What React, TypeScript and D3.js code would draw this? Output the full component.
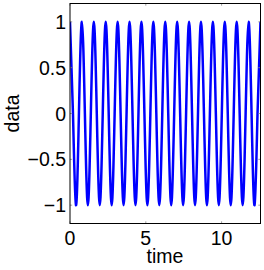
import React from "react";
import * as d3 from "d3";

const times = [
  0, 0.196, 0.393, 0.589, 0.785, 0.982, 1.178, 1.374, 1.571, 1.767, 1.963, 2.16, 2.356,
  2.553, 2.749, 2.945, 3.142, 3.338, 3.534, 3.731, 3.927, 4.123, 4.32, 4.516, 4.712,
  4.909, 5.105, 5.301, 5.498, 5.694, 5.89, 6.087, 6.283, 6.48, 6.676, 6.872, 7.069,
  7.265, 7.461, 7.658, 7.854, 8.05, 8.247, 8.443, 8.639, 8.836, 9.032, 9.228, 9.425,
  9.621, 9.817, 10.014, 10.21, 10.407, 10.603, 10.799, 10.996, 11.192, 11.388, 11.585,
  11.781, 11.977, 12.174, 12.37, 12.566,
];
const dataValues = [
  1, 0, -1, 0, 1, 0, -1, 0, 1, 0, -1, 0, 1, 0, -1, 0,
  1, 0, -1, 0, 1, 0, -1, 0, 1, 0, -1, 0, 1, 0, -1, 0,
  1, 0, -1, 0, 1, 0, -1, 0, 1, 0, -1, 0, 1, 0, -1, 0,
  1, 0, -1, 0, 1, 0, -1, 0, 1, 0, -1, 0, 1, 0, -1, 0,
  1,
];
const xTicks = [0, 5, 10];
const yTicks = [-1, -0.5, 0, 0.5, 1];
const xLabel = "time";
const yLabel = "data";

export default function App() {
  const W = 264, H = 270;
  const left = 70, right = 260.5, top = 3.5, bottom = 223.5;
  const x = d3.scaleLinear().domain([0, 12.566]).range([left, right]);
  const y = d3.scaleLinear().domain([-1.2, 1.2]).range([bottom, top]);
  const pts = times.map((t, i) => [t, dataValues[i]] as [number, number]);
  const line = d3
    .line<[number, number]>()
    .x((d) => x(d[0]))
    .y((d) => y(d[1]))
    .curve(d3.curveNatural);
  const font = "'Liberation Sans', Arial, sans-serif";
  const fs = 19.5;
  const tl = 2.2;
  return (
    <svg
      width={W}
      height={H}
      style={{ position: "absolute", left: 0, top: 0, background: "#fff" }}
      fontFamily={font}
    >
      <rect x={0} y={0} width={W} height={H} fill="#fff" />
      <defs>
        <clipPath id="plotclip">
          <rect x={left} y={top} width={right - left} height={bottom - top} />
        </clipPath>
      </defs>
      <path
        d={line(pts) || ""}
        fill="none"
        stroke="#0000ff"
        strokeWidth={2.5}
        clipPath="url(#plotclip)"
      />
      {xTicks.map((t) => (
        <g key={"x" + t}>
          <line x1={x(t)} x2={x(t)} y1={bottom} y2={bottom - tl} stroke="#888" strokeWidth={0.8} />
          <line x1={x(t)} x2={x(t)} y1={top} y2={top + tl} stroke="#888" strokeWidth={0.8} />
          <text x={x(t)} y={245} fontSize={fs} textAnchor="middle">
            {t}
          </text>
        </g>
      ))}
      {yTicks.map((t) => (
        <g key={"y" + t}>
          <line x1={left} x2={left + tl} y1={y(t)} y2={y(t)} stroke="#888" strokeWidth={0.8} />
          <line x1={right} x2={right - tl} y1={y(t)} y2={y(t)} stroke="#888" strokeWidth={0.8} />
          <text x={66} y={y(t) + 7} fontSize={fs} textAnchor="end">
            {t < 0 ? "\u2212" + Math.abs(t) : String(t)}
          </text>
        </g>
      ))}
      <rect
        x={left}
        y={top}
        width={right - left}
        height={bottom - top}
        fill="none"
        stroke="#000"
        strokeWidth={1}
      />
      <text x={165} y={263} fontSize={fs} textAnchor="middle">
        {xLabel}
      </text>
      <text
        transform={`translate(19, ${y(0)}) rotate(-90)`}
        fontSize={fs}
        textAnchor="middle"
      >
        {yLabel}
      </text>
    </svg>
  );
}
